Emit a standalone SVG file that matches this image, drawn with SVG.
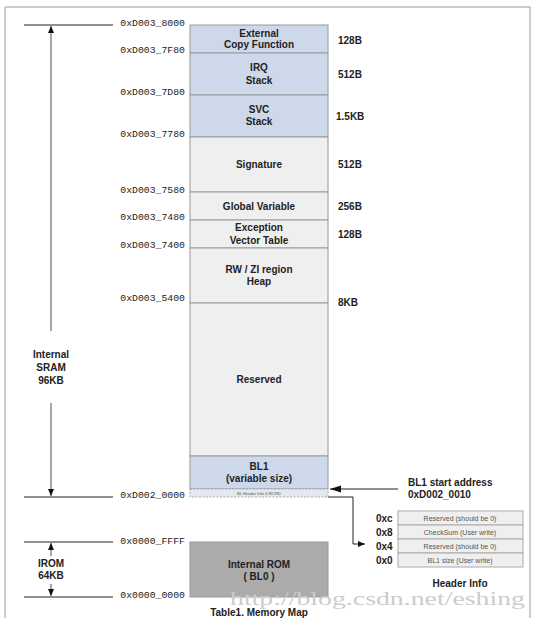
<svg xmlns="http://www.w3.org/2000/svg" width="536" height="618" viewBox="0 0 536 618">
<defs>
<style>
.addr{font-family:"Liberation Mono",monospace;font-size:9.8px;fill:#222;text-anchor:end}
.lbl{font-family:"Liberation Sans",Arial,sans-serif;font-size:10px;font-weight:bold;fill:#222;text-anchor:middle}
.sz{font-family:"Liberation Sans",Arial,sans-serif;font-size:10px;font-weight:bold;fill:#222}
.blue{fill:#cdd9eb;stroke:#999;stroke-width:1}
.gray{fill:#efefef;stroke:#999;stroke-width:1}
.row{fill:#efefef;stroke:#aaa;stroke-width:1}
.rt{font-family:"Liberation Sans",Arial,sans-serif;font-size:7px;fill:#555;text-anchor:middle}
.tick{stroke:#222;stroke-width:1}
.vline{stroke:#888;stroke-width:1.5;fill:none}
.conn{stroke:#222;stroke-width:1;fill:none}
</style>
<marker id="ah" markerWidth="8" markerHeight="8" refX="7" refY="4" orient="auto" markerUnits="userSpaceOnUse">
<path d="M0,1 L7,4 L0,7 Z" fill="#111"/>
</marker>
<marker id="ah2" markerWidth="12" markerHeight="10" refX="11" refY="5" orient="auto" markerUnits="userSpaceOnUse">
<path d="M0,1.5 L11,5 L0,8.5 Z" fill="#111"/>
</marker>
</defs>
<rect width="536" height="618" fill="#fff"/>
<path d="M5,618 V7 H530 V618" fill="none" stroke="#999" stroke-width="1"/>

<g id="memory-map">
<rect id="ext" class="blue" x="190" y="25" width="138" height="28"/>
<rect id="irq" class="blue" x="190" y="53" width="138" height="42"/>
<rect id="svc" class="blue" x="190" y="95" width="138" height="42"/>
<rect id="sig" class="gray" x="190" y="137" width="138" height="55"/>
<rect id="glob" class="gray" x="190" y="192" width="138" height="28"/>
<rect id="exc" class="gray" x="190" y="220" width="138" height="28"/>
<rect id="heap" class="gray" x="190" y="248" width="138" height="55"/>
<rect id="res" class="gray" x="190" y="303" width="138" height="153"/>
<rect id="bl1" class="blue" x="190" y="456" width="138" height="33"/>
<rect id="bl1h" x="190" y="489" width="138" height="8" fill="#e4e8ef" stroke="#999" stroke-width="0.8" stroke-dasharray="2,1.5"/>
<rect id="rom" x="190" y="542" width="138" height="55" fill="#ababab" stroke="#999" stroke-width="1"/>

<text class="lbl" x="259" y="37">External</text>
<text class="lbl" x="259" y="48">Copy Function</text>
<text class="lbl" x="259" y="71">IRQ</text>
<text class="lbl" x="259" y="84">Stack</text>
<text class="lbl" x="259" y="113">SVC</text>
<text class="lbl" x="259" y="125">Stack</text>
<text class="lbl" x="259" y="168">Signature</text>
<text class="lbl" x="259" y="210">Global Variable</text>
<text class="lbl" x="259" y="231">Exception</text>
<text class="lbl" x="259" y="244">Vector Table</text>
<text class="lbl" x="259" y="273">RW / ZI region</text>
<text class="lbl" x="259" y="285">Heap</text>
<text class="lbl" x="259" y="383">Reserved</text>
<text class="lbl" x="259" y="470">BL1</text>
<text class="lbl" x="259" y="482">(variable size)</text>
<text x="259" y="494.5" font-family="Liberation Sans,Arial,sans-serif" font-size="4px" fill="#555" text-anchor="middle">BL Header Info 4 WORD</text>
<text class="lbl" x="259" y="568">Internal ROM</text>
<text class="lbl" x="259" y="580">( BL0 )</text>
<text class="lbl" x="259" y="616">Table1. Memory Map</text>

<text class="sz" x="338" y="44">128B</text>
<text class="sz" x="338" y="78">512B</text>
<text class="sz" x="336" y="120">1.5KB</text>
<text class="sz" x="338" y="168">512B</text>
<text class="sz" x="338" y="210">256B</text>
<text class="sz" x="338" y="238">128B</text>
<text class="sz" x="338" y="306">8KB</text>
</g>

<g id="addresses">
<text class="addr" x="185" y="26">0xD003_8000</text>
<text class="addr" x="185" y="53">0xD003_7F80</text>
<text class="addr" x="185" y="95">0xD003_7D80</text>
<text class="addr" x="185" y="137">0xD003_7780</text>
<text class="addr" x="185" y="193">0xD003_7580</text>
<text class="addr" x="185" y="220">0xD003_7480</text>
<text class="addr" x="185" y="248">0xD003_7400</text>
<text class="addr" x="185" y="301">0xD003_5400</text>
<text class="addr" x="185" y="498">0xD002_0000</text>
<text class="addr" x="185" y="544">0x0000_FFFF</text>
<text class="addr" x="185" y="598">0x0000_0000</text>
</g>

<g id="sram-range">
<line class="tick" x1="24" y1="25" x2="113" y2="25"/>
<line class="tick" x1="24" y1="497" x2="113" y2="497"/>
<line class="vline" x1="51" y1="331" x2="51" y2="26" marker-end="url(#ah)"/>
<line class="vline" x1="51" y1="403" x2="51" y2="496" marker-end="url(#ah)"/>
<text class="lbl" x="51" y="358">Internal</text>
<text class="lbl" x="51" y="371">SRAM</text>
<text class="lbl" x="51" y="384">96KB</text>
</g>

<g id="irom-range">
<line class="tick" x1="24" y1="542" x2="113" y2="542"/>
<line class="tick" x1="24" y1="597" x2="113" y2="597"/>
<line class="vline" x1="51" y1="556" x2="51" y2="543" marker-end="url(#ah)"/>
<line class="vline" x1="51" y1="584" x2="51" y2="596" marker-end="url(#ah)"/>
<text class="lbl" x="51" y="567">IROM</text>
<text class="lbl" x="51" y="579">64KB</text>
</g>

<g id="connectors">
<line class="conn" x1="398" y1="489" x2="330" y2="489" stroke-width="1.3" marker-end="url(#ah2)"/>
<polyline class="conn" points="328,497 353,497 353,544 365,544" marker-end="url(#ah)"/>
</g>

<g id="bl1-start">
<text class="sz" x="408" y="486">BL1 start address</text>
<text class="sz" x="408" y="498">0xD002_0010</text>
</g>

<g id="header-info">
<rect class="row" x="398" y="511" width="125" height="14"/>
<rect class="row" x="398" y="525" width="125" height="14"/>
<rect class="row" x="398" y="539" width="125" height="14"/>
<rect class="row" x="398" y="553" width="125" height="14"/>
<text class="rt" x="460" y="520.5">Reserved (should be 0)</text>
<text class="rt" x="460" y="534.5">CheckSum (User write)</text>
<text class="rt" x="460" y="548.5">Reserved (should be 0)</text>
<text class="rt" x="460" y="562.5">BL1 size (User write)</text>
<text class="sz" x="376" y="522" font-size="9px">0xc</text>
<text class="sz" x="376" y="536" font-size="9px">0x8</text>
<text class="sz" x="376" y="550" font-size="9px">0x4</text>
<text class="sz" x="376" y="564" font-size="9px">0x0</text>
<text class="lbl" x="460" y="587">Header Info</text>
</g>

<text x="230" y="605" font-family="Liberation Serif,serif" font-size="18px" fill="#cccccc" textLength="295" lengthAdjust="spacingAndGlyphs">http://blog.csdn.net/eshing</text>
</svg>
